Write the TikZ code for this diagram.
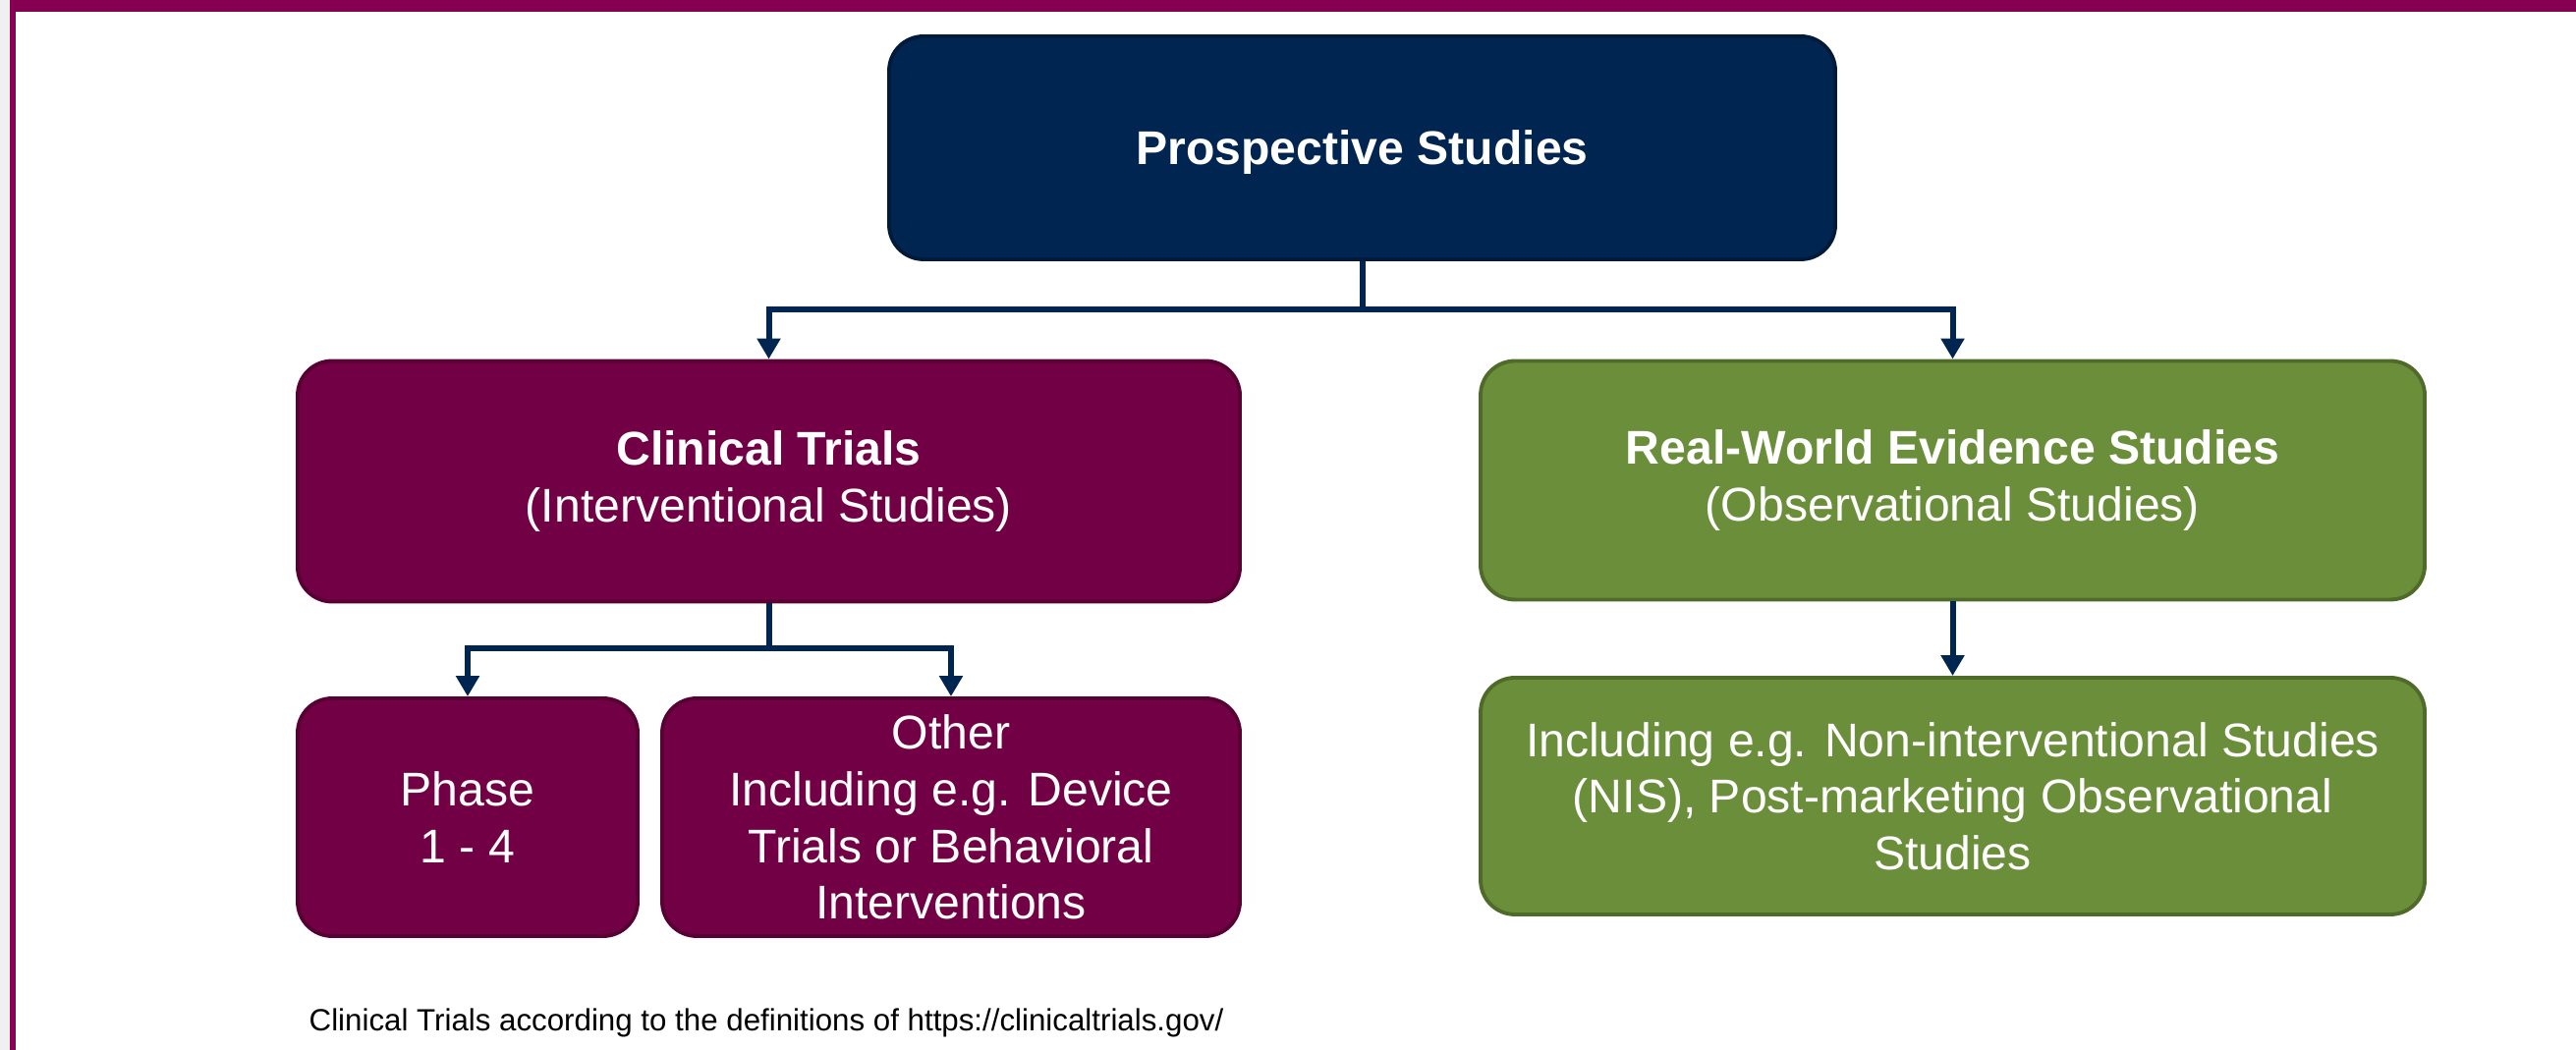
\documentclass[tikz,border=0pt]{standalone}
\usepackage{fontspec}
\setmainfont{Liberation Sans}
\usepackage{tikz}
\definecolor{navy}{RGB}{0,37,80}
\definecolor{darknavy}{RGB}{0,26,58}
\definecolor{wine}{RGB}{114,0,68}
\definecolor{darkwine}{RGB}{88,0,52}
\definecolor{leaf}{RGB}{107,142,58}
\definecolor{darkleaf}{RGB}{79,107,41}
\definecolor{band}{RGB}{133,0,80}
\definecolor{strip}{RGB}{240,240,240}
\usetikzlibrary{arrows.meta}
\tikzset{%
  box/.style={draw, rectangle, rounded corners=3.5mm, line width=1.1pt, text=white,
    align=center, inner sep=0pt, font=\fontsize{13.7}{16.4}\selectfont},% any study box
  rootbox/.style={box, fill=navy, draw=darknavy, text depth=0pt},% top of the tree
  trial/.style={box, fill=wine, draw=darkwine},% interventional branch
  rwe/.style={box, fill=leaf, draw=darkleaf},% observational branch
  link/.style={draw=navy, line width=1.7pt, ->}% connector between boxes
}

\begin{document}
\begin{tikzpicture}[>={Triangle[width=2.3mm,length=2.1mm]}]
\useasboundingbox (0,0) rectangle (26.22,10.69);
\fill[white] (0,0) rectangle (26.22,10.69);
\fill[strip] (0,0) rectangle (0.10,10.69);
\fill[band] (0.10,0) rectangle (0.16,10.69);
\fill[band] (0.10,10.57) rectangle (26.22,10.69);

\node[rootbox, minimum width=9.63cm, minimum height=2.27cm] (root) at (13.865, 9.185) {\bfseries Prospective Studies};

\node[trial, minimum width=9.59cm, minimum height=2.45cm] (ct) at (7.825, 5.79) {{\bfseries Clinical Trials}\\(Interventional Studies)};
\node[rwe, minimum width=9.61cm, minimum height=2.43cm] (rw) at (19.875, 5.80) {{\bfseries Real-World Evidence Studies}\\(Observational Studies)};

\node[trial, minimum width=3.46cm, minimum height=2.42cm] (phase) at (4.76, 2.37) {Phase\\1 - 4};
\node[trial, minimum width=5.88cm, minimum height=2.42cm] (other) at (9.68, 2.37) {Other\\Including e.g. Device\\Trials or Behavioral\\Interventions};
\node[rwe, minimum width=9.61cm, minimum height=2.41cm] (nis) at (19.875, 2.585) {Including e.g. Non-interventional Studies\\(NIS), Post-marketing Observational\\Studies};

\draw[link] (root.south) -- ++(0,-0.49) -| (ct.north);
\draw[link] (root.south) -- ++(0,-0.49) -| (rw.north);
\draw[link] (ct.south) -- ++(0,-0.46) -| (phase.north);
\draw[link] (ct.south) -- ++(0,-0.46) -| (other.north);
\draw[link] (rw.south) -- (nis.north);

\node[anchor=base west, inner sep=0pt, font=\fontsize{8.9}{10.7}\selectfont] (note) at (3.14, 0.19) {Clinical Trials according to the definitions of https://clinicaltrials.gov/};
\end{tikzpicture}
\end{document}
